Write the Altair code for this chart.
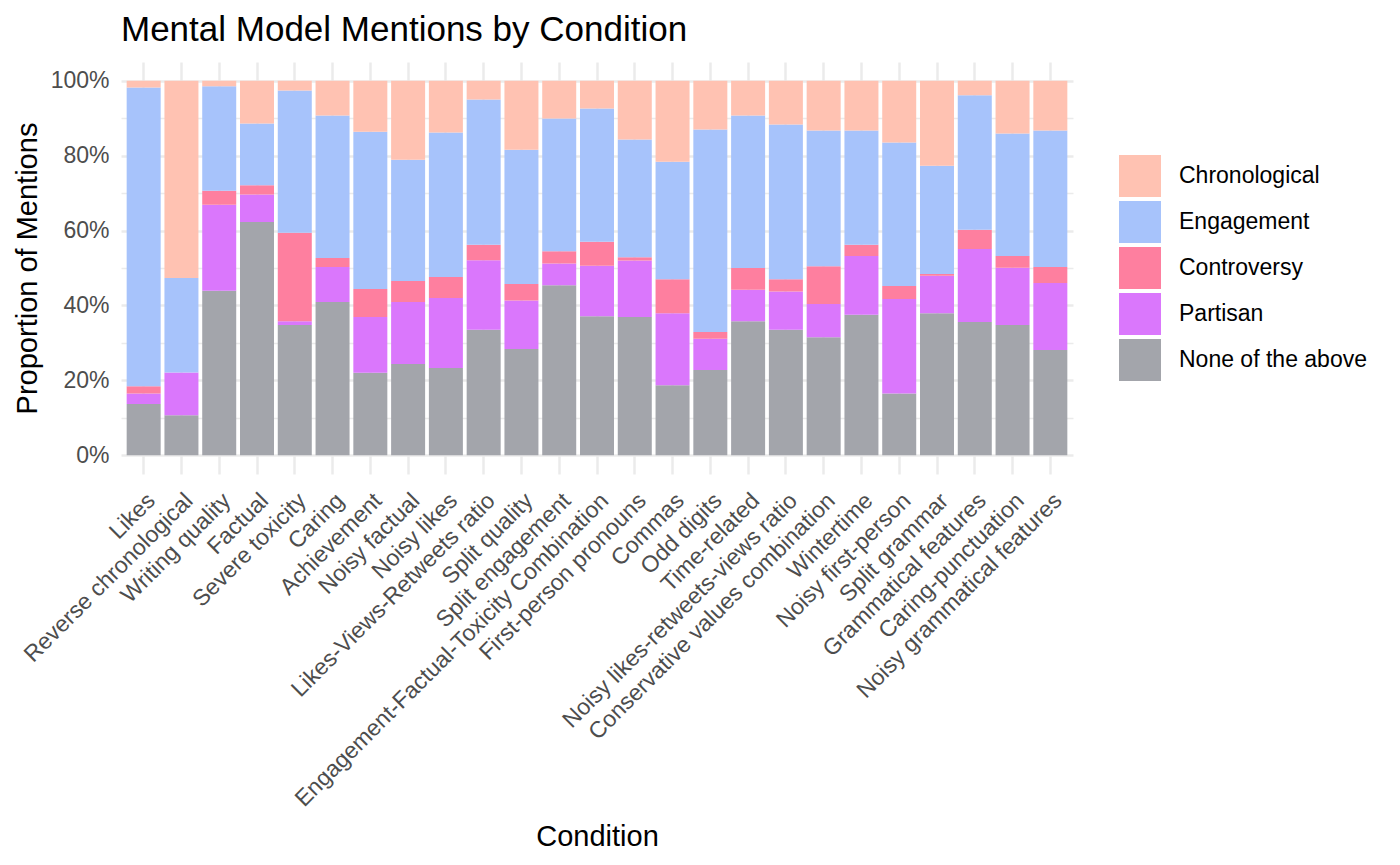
import altair as alt
import pandas as pd

conditions = [
    "Likes", "Reverse chronological", "Writing quality", "Factual", "Severe toxicity",
    "Caring", "Achievement", "Noisy factual", "Noisy likes", "Likes-Views-Retweets ratio",
    "Split quality", "Split engagement", "Engagement-Factual-Toxicity Combination",
    "First-person pronouns", "Commas", "Odd digits", "Time-related",
    "Noisy likes-retweets-views ratio", "Conservative values combination", "Wintertime",
    "Noisy first-person", "Split grammar", "Grammatical features", "Caring-punctuation",
    "Noisy grammatical features",
]

none_vals = [13.7, 10.7, 43.9, 62.3, 34.8, 40.9, 22.0, 24.4, 23.3, 33.5, 28.4, 45.4, 37.1,
             36.9, 18.7, 22.8, 35.8, 33.5, 31.5, 37.5, 16.5, 37.9, 35.6, 34.8, 28.1]
partisan_vals = [2.8, 11.4, 23.0, 7.3, 1.0, 9.4, 14.9, 16.5, 18.7, 18.6, 12.9, 5.8, 13.5,
                 15.1, 19.2, 8.3, 8.4, 10.2, 8.9, 15.7, 25.2, 10.0, 19.5, 15.3, 17.9]
controversy_vals = [1.9, 0.0, 3.7, 2.5, 23.6, 2.4, 7.5, 5.6, 5.6, 4.1, 4.4, 3.3, 6.4,
                    0.9, 9.1, 1.8, 5.8, 3.3, 10.1, 3.0, 3.5, 0.5, 5.1, 3.1, 4.3]
engagement_vals = [79.8, 25.2, 27.9, 16.5, 38.0, 38.0, 42.0, 32.4, 38.6, 38.8, 35.9, 35.4, 35.6,
                   31.4, 31.4, 54.1, 40.7, 41.3, 36.2, 30.5, 38.3, 28.9, 35.9, 32.7, 36.4]
chrono_vals = [1.8, 52.7, 1.5, 11.4, 2.6, 9.3, 13.6, 21.1, 13.8, 5.0, 18.4, 10.1, 7.4,
               15.7, 21.6, 13.0, 9.3, 11.7, 13.3, 13.3, 16.5, 22.7, 3.9, 14.1, 13.3]

legend_order = ["Chronological", "Engagement", "Controversy", "Partisan", "None of the above"]
legend_colors = ["#FFC2B2", "#A7C3FB", "#FE7F9F", "#DA77FC", "#A3A5AB"]

series = [
    ("None of the above", none_vals),
    ("Partisan", partisan_vals),
    ("Controversy", controversy_vals),
    ("Engagement", engagement_vals),
    ("Chronological", chrono_vals),
]

rows = []
for i, cond in enumerate(conditions):
    for k, (name, vals) in enumerate(series):
        rows.append({"Condition": cond, "Model": name, "Share": vals[i], "stack_order": k})
df = pd.DataFrame(rows)

FONT = "Liberation Sans"
tick_values = [round(v * 0.1, 1) for v in range(11)]

chart = alt.Chart(df).mark_bar().encode(
    x=alt.X(
        "Condition:N",
        sort=conditions,
        scale=alt.Scale(paddingInner=0.1, paddingOuter=0.15),
        axis=alt.Axis(
            title="Condition",
            labelAngle=-45,
            labelAlign="right",
            labelBaseline="top",
            labelPadding=15,
            labelFontSize=23,
            labelColor="#4D4D4D",
            labelFont=FONT,
            labelLimit=0,
            ticks=False,
            domain=False,
            grid=True,
            bandPosition=0.5,
            gridColor="#EBEBEB",
            gridWidth=2.5,
            titleFontSize=29,
            titleFontWeight="normal",
            titleColor="black",
            titleFont=FONT,
            titleBaseline="alphabetic",
            titleY=371,
        ),
    ),
    y=alt.Y(
        "Share:Q",
        stack="normalize",
        scale=alt.Scale(domain=[-0.05, 1.05], nice=False, zero=False),
        axis=alt.Axis(
            title="Proportion of Mentions",
            values=tick_values,
            format=".0%",
            labelExpr="round(datum.value*10) % 2 == 0 ? datum.label : ''",
            labelFontSize=23,
            labelColor="#4D4D4D",
            labelFont=FONT,
            labelPadding=12,
            ticks=False,
            domain=False,
            gridColor="#EBEBEB",
            gridWidth={"condition": {"test": "round(datum.value*10) % 2 == 0", "value": 2.5}, "value": 1.3},
            titleFontSize=29,
            titleFontWeight="normal",
            titleColor="black",
            titleFont=FONT,
            titlePadding=8,
        ),
    ),
    color=alt.Color(
        "Model:N",
        scale=alt.Scale(domain=legend_order, range=legend_colors),
        legend=alt.Legend(
            title=None,
            orient="none",
            legendX=998,
            legendY=93,
            symbolType="square",
            symbolSize=1764,
            symbolStrokeWidth=0,
            symbolOpacity=1,
            rowPadding=4,
            labelOffset=18,
            labelFontSize=23,
            labelFont=FONT,
            labelColor="black",
            labelLimit=0,
        ),
    ),
    order=alt.Order("stack_order:Q", sort="ascending"),
).properties(
    width=952,
    height=412,
    background="white",
    title=alt.TitleParams(
        "Mental Model Mentions by Condition",
        anchor="start",
        frame="group",
        fontSize=35,
        fontWeight="normal",
        font=FONT,
        color="black",
        offset=14,
    ),
).configure_view(stroke=None)

chart.save("out.html", embed_options={"renderer": "svg", "actions": False})
